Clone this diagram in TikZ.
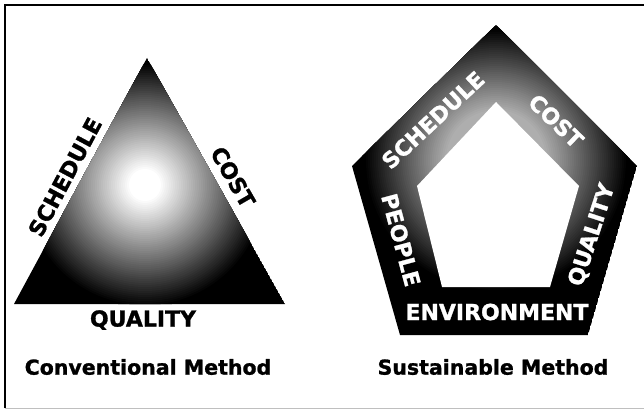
\documentclass[tikz,border=0pt]{standalone}
\usepackage{fontspec}
\setmainfont[BoldFeatures={FakeBold=1.2}]{DejaVu Sans}
\begin{document}
\begin{tikzpicture}[x=1pt,y=-1pt,
  lbl/.style={font=\fontsize{22}{26}\selectfont\bfseries, inner sep=0pt},
  captext/.style={font=\fontsize{20.5}{24}\selectfont\bfseries, inner sep=0pt},
  plbl/.style={lbl, text=white}]
\useasboundingbox (0,0) rectangle (644,411);
\fill[white] (0,0) rectangle (644,411);
\draw[line width=2pt] (5,408) -- (5,5) -- (644,5);
\draw[black!25, line width=1pt] (5,408) -- (644,408);
% triangle
\coordinate (tA) at (147,58);
\coordinate (tB) at (14,304);
\coordinate (tC) at (285,304);
\coordinate (tM) at (145,185);
\begin{scope}
\clip (tA) -- (tB) -- (tC) -- cycle;
\fill[black] (tA) -- (tB) -- (tC) -- cycle;
\foreach \r in {122,120,...,2}{
  \pgfmathsetmacro\p{min(100,max(0,(\r-16)/106*100))}
  \fill[black!\p] (tM) circle (\r pt);
}
\end{scope}
% pentagon
\coordinate (pA) at (496,25);
\coordinate (pB) at (637,166);
\coordinate (pC) at (588,335);
\coordinate (pD) at (400,335);
\coordinate (pE) at (352,166);
\coordinate (qA) at (496,102);
\coordinate (qB) at (579,186);
\coordinate (qC) at (550,287);
\coordinate (qD) at (442,287);
\coordinate (qE) at (417,186);
\coordinate (pM) at (496,160);
\begin{scope}
\clip (pA) -- (pB) -- (pC) -- (pD) -- (pE) -- cycle;
\fill[black] (pA) -- (pB) -- (pC) -- (pD) -- (pE) -- cycle;
\foreach \r in {134,132,...,50}{
  \pgfmathsetmacro\p{min(100,max(0,40+(\r-60)/72*60))}
  \fill[black!\p] (pM) circle (\r pt);
}
\end{scope}
\fill[white] (qA) -- (qB) -- (qC) -- (qD) -- (qE) -- cycle;
% labels
\node[lbl, rotate=62] (tsched) at (65,177) {SCHEDULE};
\node[lbl, rotate=-60] (tcost) at (233,177) {COST};
\node[lbl] (tqual) at (143,320) {QUALITY};
\node[captext] (conv) at (148,367) {Conventional Method};
\node[plbl, rotate=43] (psched) at (433,120) {SCHEDULE};
\node[plbl, rotate=-44] (pcost) at (556,121) {COST};
\node[plbl, rotate=72] (pqual) at (592,235) {QUALITY};
\node[plbl, rotate=-75] (ppeop) at (401,240) {PEOPLE};
\node[plbl] (penv) at (497,312) {ENVIRONMENT};
\node[captext] (sust) at (493,367) {Sustainable Method};
\end{tikzpicture}
\end{document}
